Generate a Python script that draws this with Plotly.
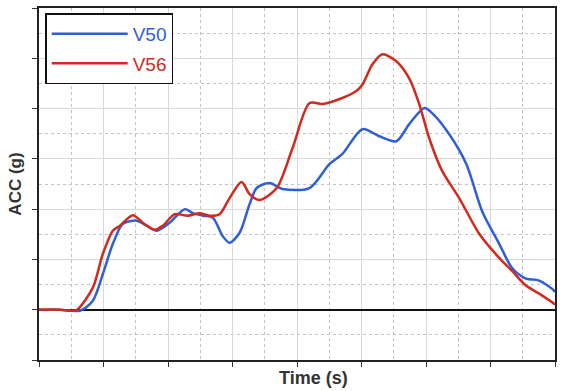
import plotly.graph_objects as go

# Time (arbitrary units, 8 major divisions) and acceleration values
t_v50 = [0, 6.5, 12.7, 16.7, 19.8, 22.9, 26.0, 30.3, 33.4, 36.5, 40.5, 45.2, 47.7, 50.8,
         53.9, 56.9, 59.1, 62.2, 65.3, 67.5, 71.5, 75.5, 83.9, 90.1, 94.1, 100.3, 105.5,
         110.8, 114.8, 119.5, 121.9, 127.2, 132.5, 137.4, 142.7, 146.7, 151.0, 155.1, 159.7, 160]
acc_v50 = [0, 0, -0.2, 1.8, 7.1, 13.1, 17.1, 17.7, 16.7, 15.7, 17.3, 20.0, 19.2, 18.7,
           18.3, 14.7, 13.3, 15.3, 21.0, 24.2, 25.2, 24.0, 24.2, 29.0, 31.0, 35.9, 34.5,
           33.5, 36.9, 40.1, 39.1, 34.9, 29.0, 19.6, 13.1, 8.3, 6.2, 5.8, 3.8, 3.5]

t_v56 = [0, 6.5, 9.6, 11.8, 16.7, 19.8, 22.9, 25.1, 29.1, 32.2, 35.9, 38.4, 42.1, 46.1,
         49.8, 52.9, 56.0, 59.1, 62.8, 65.3, 68.4, 73.7, 78.6, 83.9, 87.9, 93.2, 98.4,
         100.3, 103.4, 106.5, 110.8, 114.8, 117.9, 121.0, 125.0, 130.3, 136.5, 142.7,
         146.7, 151.0, 155.1, 159.7, 160]
acc_v56 = [0, 0, -0.2, 0, 4.4, 11.1, 15.7, 16.7, 18.8, 17.3, 15.9, 16.7, 19.0, 18.7,
           19.2, 18.7, 19.0, 22.2, 25.4, 23.0, 21.8, 24.2, 32.1, 41.1, 40.9, 41.9, 43.5,
           44.8, 48.8, 50.8, 49.4, 46.0, 40.9, 34.1, 27.6, 22.2, 15.1, 10.3,
           7.7, 4.8, 3.2, 1.2, 1.0]

x_title = "Time (s)"
y_title = "ACC (g)"

blue = "#2f5fd6"
red = "#d12a1e"

fig = go.Figure()
fig.add_trace(go.Scatter(x=t_v50, y=acc_v50, mode="lines", legendgroup="a",
                         name='<span style="color:%s">V50</span>' % blue,
                         line=dict(color=blue, width=2.5, shape="spline", smoothing=0.8)))
fig.add_trace(go.Scatter(x=t_v56, y=acc_v56, mode="lines", legendgroup="b",
                         name='<span style="color:%s">V56</span>' % red,
                         line=dict(color=red, width=2.5, shape="spline", smoothing=0.8)))

axis_common = dict(
    showline=True, linecolor="#222222", linewidth=2, mirror=True,
    showgrid=True, gridcolor="#d9d9d9", gridwidth=1,
    ticks="outside", ticklen=5, tickcolor="#333333",
    showticklabels=False,
)

fig.update_xaxes(range=[0, 160], dtick=20, tick0=0, zeroline=False,
                 minor=dict(dtick=10, tick0=0, showgrid=True, gridcolor="#c4c4c4",
                            griddash="dot", gridwidth=1, ticks=""),
                 **axis_common)
fig.update_yaxes(range=[-10, 60], dtick=10, tick0=0, zeroline=True, zerolinecolor="#111111",
                 zerolinewidth=1.8,
                 minor=dict(dtick=5, tick0=0, showgrid=True, gridcolor="#c4c4c4",
                            griddash="dot", gridwidth=1, ticks=""),
                 title=dict(text="<b>%s</b>" % y_title, font=dict(size=17, color="#333333"), standoff=6),
                 **axis_common)

fig.add_annotation(text="<b>%s</b>" % x_title, xref="paper", yref="paper",
                   x=0.532, y=-0.05, xanchor="center", yanchor="middle", showarrow=False,
                   font=dict(size=18, color="#333333"))

fig.update_layout(
    width=563, height=391,
    margin=dict(l=39, r=8, t=6, b=31),
    plot_bgcolor="white", paper_bgcolor="white",
    font=dict(family="Liberation Sans, Arial, sans-serif"),
    legend=dict(x=0.012, y=0.985, xanchor="left", yanchor="top",
                bordercolor="#111111", borderwidth=1.5, bgcolor="white",
                font=dict(size=19), itemwidth=76, tracegroupgap=2),
    showlegend=True,
)

fig.write_html("out.html", config={"displayModeBar": False},
               post_script="document.body.style.margin='0px';")
